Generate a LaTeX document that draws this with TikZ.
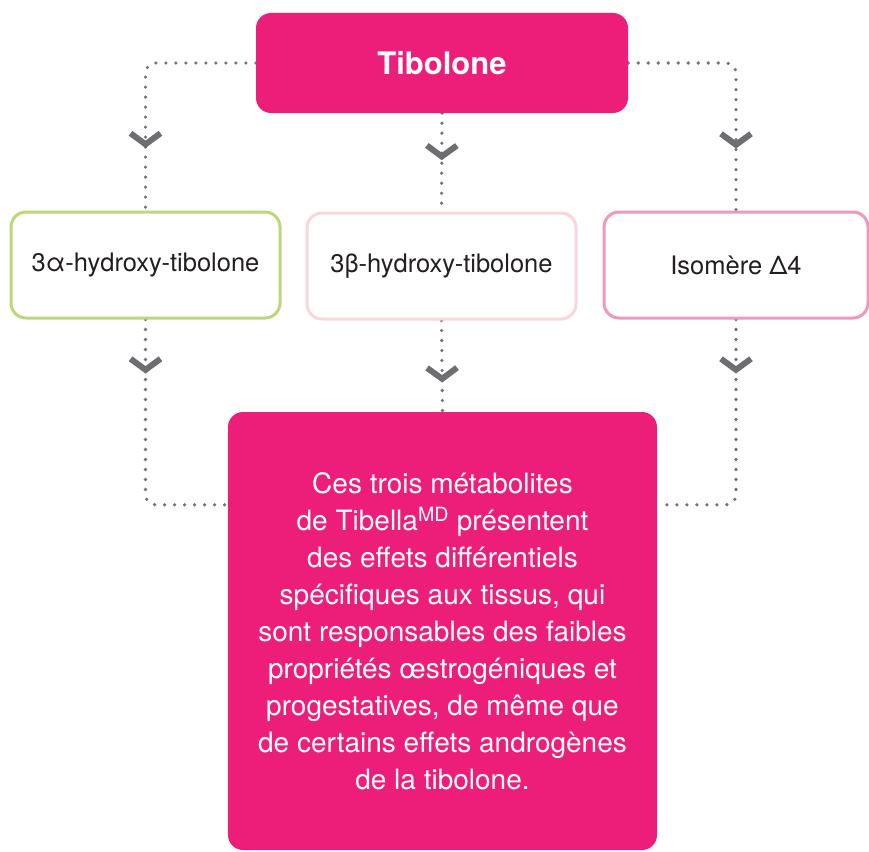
\documentclass[tikz,border=0pt]{standalone}
\usepackage{fontspec}
\setmainfont{TeX Gyre Heros}
\usetikzlibrary{arrows.meta,decorations.markings,backgrounds}
\definecolor{tpink}{RGB}{237,30,121}
\definecolor{dotgray}{RGB}{115,115,118}
\definecolor{chevgray}{RGB}{109,110,113}
\definecolor{textdark}{RGB}{35,31,32}
\definecolor{bgreen}{RGB}{186,216,120}
\definecolor{blight}{RGB}{249,214,218}
\definecolor{bpink}{RGB}{241,150,190}
\tikzset{
  flow/.style={draw=dotgray, line width=3.6pt, dash pattern=on 0pt off 10pt, line cap=round, rounded corners=10pt},
  chev/.style={postaction={decorate}, decoration={markings, mark=at position #1 with {\arrow[chevgray]{Straight Barb[length=11pt,width=30pt,line width=6pt]}}}},
  mainbox/.style={fill=tpink, rounded corners=15pt, text=white, inner sep=0pt},
  metabox/.style={rounded corners=15pt, line width=3pt, fill=white, text=textdark, minimum width=269pt, minimum height=106pt, inner sep=0pt, font=\fontsize{25.5}{30}\selectfont},
}
\begin{document}
\begin{tikzpicture}[x=1pt,y=-1pt]
\useasboundingbox (0,0) rectangle (869,851);
\node[mainbox, minimum width=372pt, minimum height=100pt, font=\fontsize{31}{36}\selectfont\bfseries] (tib) at (442,63) {\raisebox{-2pt}{Tibolone}};
\node[metabox, draw=bgreen] (a) at (145.5,265) {3α-hydroxy-tibolone};
\node[metabox, draw=blight] (b) at (441.5,266) {3β-hydroxy-tibolone};
\node[metabox, draw=bpink, minimum width=264pt] (c) at (736,265) {Isomère Δ4};
\node[mainbox, minimum width=429pt, minimum height=438pt, align=center, font=\fontsize{28}{37}\selectfont] (d) at (442.5,631) {Ces trois métabolites\\de Tibella\textsuperscript{MD} présentent\\des effets différentiels\\spécifiques aux tissus, qui\\sont responsables des faibles\\propriétés œstrogéniques et\\progestatives, de même que\\de certains effets androgènes\\de la tibolone.};
\begin{scope}[on background layer]
\draw[flow, chev=191pt] (tib.west) -| (a.north);
\draw[flow, chev=47pt] (tib.south) -- (b.north);
\draw[flow, chev=189pt] (tib.east) -| (c.north);
\draw[flow, chev=54pt] (a.south) |- ([yshift=-93pt]d.north west);
\draw[flow, chev=62pt] (b.south) -- (d.north);
\draw[flow, chev=54pt] (c.south) |- ([yshift=-93pt]d.north east);
\end{scope}
\end{tikzpicture}
\end{document}
